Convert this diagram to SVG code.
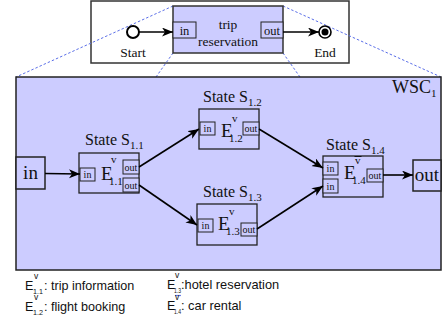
<svg xmlns="http://www.w3.org/2000/svg" width="447" height="324" viewBox="0 0 447 324">
  <style>
    .serif { font-family: "Liberation Serif", "Times New Roman", serif; fill: #111; }
    .sans { font-family: "Liberation Sans", Arial, sans-serif; fill: #111; }
    .frame { fill: #ccccff; stroke: #222; stroke-width: 1.5; }
    .state { fill: #ccccff; stroke: #222; stroke-width: 1.3; }
    .port { fill: #ccccff; stroke: #222; stroke-width: 1; }
    .port-t { font-family: "Liberation Serif", "Times New Roman", serif; font-size: 10px; fill: #111; text-anchor: middle; }
    .dash { stroke: #5a6ee8; stroke-width: 1; stroke-dasharray: 2.5 2; fill: none; }
    .flow { stroke: #000; stroke-width: 1.6; fill: none; marker-end: url(#head); }
  </style>
  <defs>
    <marker id="head" markerUnits="userSpaceOnUse" markerWidth="12" markerHeight="10" refX="11" refY="4.5" orient="auto">
      <path d="M0,0 L11,4.5 L0,9 L3,4.5 z" fill="#000"/>
    </marker>
  </defs>

  <rect width="447" height="324" fill="#ffffff"/>

  <!-- overview strip -->
  <g id="overview">
    <rect x="91" y="1" width="258" height="62" fill="#ffffff" stroke="#333" stroke-width="1.5"/>
  </g>

  <!-- zoom guides from the overview node to the expanded composite -->
  <g id="guides">
    <line class="dash" x1="173" y1="6" x2="16" y2="77"/>
    <line class="dash" x1="283" y1="6" x2="441" y2="77"/>
    <line class="dash" x1="173" y1="53" x2="156" y2="77"/>
    <line class="dash" x1="283" y1="53" x2="300" y2="77"/>
  </g>

  <g id="start">
    <circle cx="133" cy="32" r="6" fill="#fff" stroke="#000" stroke-width="2"/>
    <text class="serif" x="133" y="57" font-size="13.5" text-anchor="middle">Start</text>
  </g>
  <g id="trip">
    <rect x="173" y="6" width="110" height="47" fill="#ccccff" stroke="#333" stroke-width="1.5"/>
    <rect class="port" x="173" y="22" width="23" height="16"/>
    <text class="serif" x="184.5" y="34.5" font-size="12.5" text-anchor="middle">in</text>
    <rect class="port" x="261" y="22" width="22" height="16"/>
    <text class="serif" x="272" y="34.5" font-size="12.5" text-anchor="middle">out</text>
    <text class="serif" x="228" y="29" font-size="13.5" text-anchor="middle">trip</text>
    <text class="serif" x="228" y="46" font-size="13.5" text-anchor="middle">reservation</text>
  </g>
  <g id="end">
    <circle cx="325" cy="32" r="6" fill="#fff" stroke="#000" stroke-width="1.6"/>
    <circle cx="325" cy="32" r="3.5" fill="#000"/>
    <text class="serif" x="325" y="57" font-size="13.5" text-anchor="middle">End</text>
  </g>

  <!-- composite WSC1 -->
  <g id="wsc1">
    <rect class="frame" x="16" y="77" width="425" height="193"/>
    <text class="serif" x="392" y="93" font-size="18">WSC<tspan font-size="11" dy="4">1</tspan></text>
  </g>

  <g id="in">
    <rect class="frame" x="16" y="157" width="29" height="32"/>
    <text class="serif" x="30.5" y="179" font-size="19" text-anchor="middle">in</text>
  </g>

  <g id="s11">
    <text class="serif" x="85" y="145" font-size="16">State S<tspan font-size="11" dy="4">1.1</tspan></text>
    <rect class="state" x="79" y="153" width="60" height="40"/>
    <rect class="port" x="80" y="168" width="15" height="13"/>
    <text class="port-t" x="87.5" y="178">in</text>
    <rect class="port" x="123" y="160" width="16" height="14"/>
    <text class="port-t" x="131" y="171" font-size="9">out</text>
    <rect class="port" x="123" y="178" width="16" height="14"/>
    <text class="port-t" x="131" y="189" font-size="9">out</text>
    <text class="serif" x="101" y="180" font-size="19">E</text>
    <text class="serif" x="111" y="163" font-size="11">v</text>
    <text class="serif" x="109" y="185" font-size="11">1.1</text>
  </g>

  <g id="s12">
    <text class="serif" x="203" y="102" font-size="16">State S<tspan font-size="11" dy="4">1.2</tspan></text>
    <rect class="state" x="199" y="109" width="60" height="40"/>
    <rect class="port" x="200" y="122" width="15" height="13"/>
    <text class="port-t" x="207.5" y="132">in</text>
    <rect class="port" x="243" y="122" width="16" height="13"/>
    <text class="port-t" x="251" y="132" font-size="9">out</text>
    <text class="serif" x="221" y="137" font-size="19">E</text>
    <text class="serif" x="232" y="122" font-size="11">v</text>
    <text class="serif" x="229" y="142" font-size="11">1.2</text>
  </g>

  <g id="s13">
    <text class="serif" x="203" y="197" font-size="16">State S<tspan font-size="11" dy="4">1.3</tspan></text>
    <rect class="state" x="197" y="204" width="60" height="41"/>
    <rect class="port" x="198" y="219" width="15" height="13"/>
    <text class="port-t" x="205.5" y="229">in</text>
    <rect class="port" x="241" y="223" width="16" height="13"/>
    <text class="port-t" x="249" y="233" font-size="9">out</text>
    <text class="serif" x="218" y="230" font-size="19">E</text>
    <text class="serif" x="229" y="215" font-size="11">v</text>
    <text class="serif" x="226" y="235" font-size="11">1.3</text>
  </g>

  <g id="s14">
    <text class="serif" x="326" y="150" font-size="16">State S<tspan font-size="11" dy="4">1.4</tspan></text>
    <rect class="state" x="323" y="156" width="60" height="41"/>
    <rect class="port" x="323" y="162" width="15" height="13"/>
    <text class="port-t" x="330.5" y="172">in</text>
    <rect class="port" x="323" y="179" width="15" height="14"/>
    <text class="port-t" x="330.5" y="190">in</text>
    <rect class="port" x="367" y="169" width="16" height="13"/>
    <text class="port-t" x="375" y="179" font-size="9">out</text>
    <text class="serif" x="344" y="179" font-size="19">E</text>
    <text class="serif" x="355" y="164" font-size="11">v</text>
    <line x1="354.5" y1="156.5" x2="361.5" y2="156.5" stroke="#111" stroke-width="1"/>
    <text class="serif" x="352" y="184" font-size="11">1.4</text>
  </g>

  <g id="out">
    <rect class="frame" x="413" y="160" width="28" height="31"/>
    <text class="serif" x="427" y="181" font-size="19" text-anchor="middle">out</text>
  </g>

  <!-- control flow -->
  <g id="connectors">
    <line class="flow" x1="139" y1="32" x2="173" y2="32"/>
    <line class="flow" x1="283" y1="32" x2="319" y2="32"/>
    <line class="flow" x1="45" y1="173.5" x2="80" y2="174"/>
    <line class="flow" x1="139" y1="167" x2="199" y2="129"/>
    <line class="flow" x1="139" y1="185" x2="197" y2="225"/>
    <line class="flow" x1="259" y1="129" x2="323" y2="168"/>
    <line class="flow" x1="257" y1="229" x2="323" y2="186"/>
    <line class="flow" x1="383" y1="175" x2="413" y2="175"/>
  </g>

  <!-- legend -->
  <g id="legend">
    <text class="sans" x="25" y="290" font-size="12.5">E</text>
    <text class="sans" x="34" y="279" font-size="8.5">v</text>
    <text class="sans" x="33" y="294" font-size="7.5" textLength="10" lengthAdjust="spacingAndGlyphs">1.1</text>
    <text class="sans" x="44" y="290" font-size="12.6">: trip information</text>

    <text class="sans" x="25" y="311" font-size="12.5">E</text>
    <text class="sans" x="34" y="300" font-size="8.5">v</text>
    <text class="sans" x="33" y="315" font-size="7.5" textLength="10" lengthAdjust="spacingAndGlyphs">1.2</text>
    <text class="sans" x="44" y="311" font-size="12.6">: flight booking</text>

    <text class="sans" x="167" y="289" font-size="12.5">E</text>
    <text class="sans" x="175" y="278" font-size="8.5">v</text>
    <text class="sans" x="174" y="293" font-size="7" textLength="7" lengthAdjust="spacingAndGlyphs">1.3</text>
    <text class="sans" x="181" y="289" font-size="12.8">:hotel reservation</text>

    <text class="sans" x="167" y="310" font-size="12.5">E</text>
    <line x1="175" y1="295.5" x2="181" y2="295.5" stroke="#6a7ee8" stroke-width="1.2"/>
    <text class="sans" x="175" y="299.5" font-size="8.5">v</text>
    <text class="sans" x="174" y="314" font-size="7" textLength="7" lengthAdjust="spacingAndGlyphs">1.4</text>
    <text class="sans" x="181" y="310" font-size="12.8">: car rental</text>
  </g>
</svg>
